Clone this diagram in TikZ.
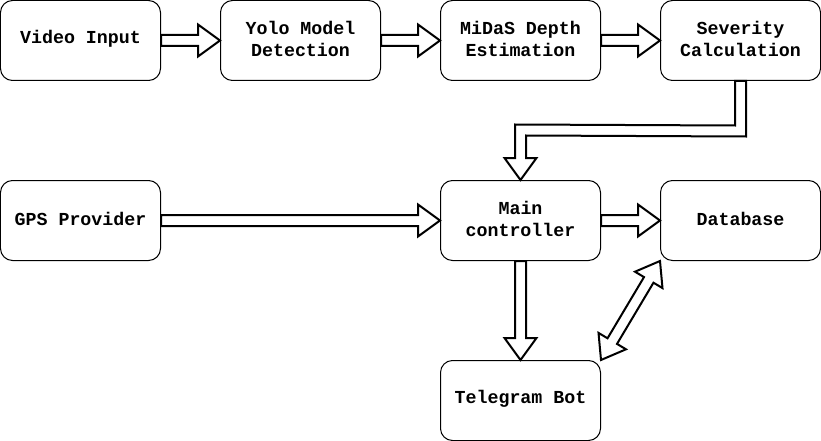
\documentclass[tikz,border=0pt]{standalone}
\usepackage{fontspec}
\newfontfamily\boxfont{Liberation Mono}
\usetikzlibrary{calc}
\tikzset{
  box/.style={draw, line width=1pt, rounded corners=12pt, minimum width=160pt, minimum height=80pt,
    inner sep=0pt},
  boxtext/.style={align=center, inner sep=0pt, yshift=2pt,
    font=\boxfont\bfseries\fontsize{18.3}{22}\selectfont},
  flex/.style={draw, fill=white, line width=2pt, line join=miter}
}
\newcommand\flexar[2]{%
  \path coordinate (fh) at ($(#2)!22pt!(#1)$);
  \draw[flex] ($(#1)!5.5pt!90:(#2)$) -- ($(fh)!5.5pt!-90:(#1)$) -- ($(fh)!16pt!-90:(#1)$) -- (#2)
    -- ($(fh)!16pt!90:(#1)$) -- ($(fh)!5.5pt!90:(#1)$) -- ($(#1)!5.5pt!-90:(#2)$) -- cycle;}
\newcommand\flexdbl[2]{%
  \path coordinate (fa) at ($(#1)!22pt!(#2)$) coordinate (fb) at ($(#2)!22pt!(#1)$);
  \draw[flex] (#1) -- ($(fa)!16pt!90:(#2)$) -- ($(fa)!5.5pt!90:(#2)$) -- ($(fb)!5.5pt!-90:(#1)$)
    -- ($(fb)!16pt!-90:(#1)$) -- (#2) -- ($(fb)!16pt!90:(#1)$) -- ($(fb)!5.5pt!90:(#1)$)
    -- ($(fa)!5.5pt!-90:(#2)$) -- ($(fa)!16pt!-90:(#2)$) -- cycle;}
\begin{document}
\begin{tikzpicture}[x=1pt,y=-1pt]
\useasboundingbox (-0.5,-0.5) rectangle (820.5,440.5);
\node[box, label={[boxtext]center:Video Input}] (vid) at (80,40) {};
\node[box, label={[boxtext]center:Yolo Model\\Detection}] (yolo) at (300,40) {};
\node[box, label={[boxtext]center:MiDaS Depth\\Estimation}] (midas) at (520,40) {};
\node[box, label={[boxtext]center:Severity\\Calculation}] (sev) at (740,40) {};
\node[box, label={[boxtext]center:GPS Provider}] (gps) at (80,220) {};
\node[box, label={[boxtext]center:Main\\controller}] (main) at (520,220) {};
\node[box, label={[boxtext]center:Database}] (db) at (740,220) {};
\node[box, label={[boxtext]center:Telegram Bot}] (tg) at (520,400) {};
\flexar{vid.east}{yolo.west}
\flexar{yolo.east}{midas.west}
\flexar{midas.east}{sev.west}
\flexar{gps.east}{main.west}
\flexar{main.east}{db.west}
\flexar{main.south}{tg.north}
\coordinate (dbc) at ($(db.south west)+(0,0)$);
\coordinate (tgc) at ($(tg.north east)+(0,0)$);
\flexdbl{tgc}{dbc}
\draw[flex] ($(sev.south)+(-5.5,0)$) -- ($(sev.south)+(-5.5,44.5)$) -- ($(main.north)+(-5.5,-55.5)$)
  -- ($(main.north)+(-5.5,-22)$) -- ($(main.north)+(-16,-22)$) -- (main.north)
  -- ($(main.north)+(16,-22)$) -- ($(main.north)+(5.5,-22)$) -- ($(main.north)+(5.5,-44.5)$)
  -- ($(sev.south)+(5.5,55.5)$) -- ($(sev.south)+(5.5,0)$) -- cycle;
\end{tikzpicture}
\end{document}
